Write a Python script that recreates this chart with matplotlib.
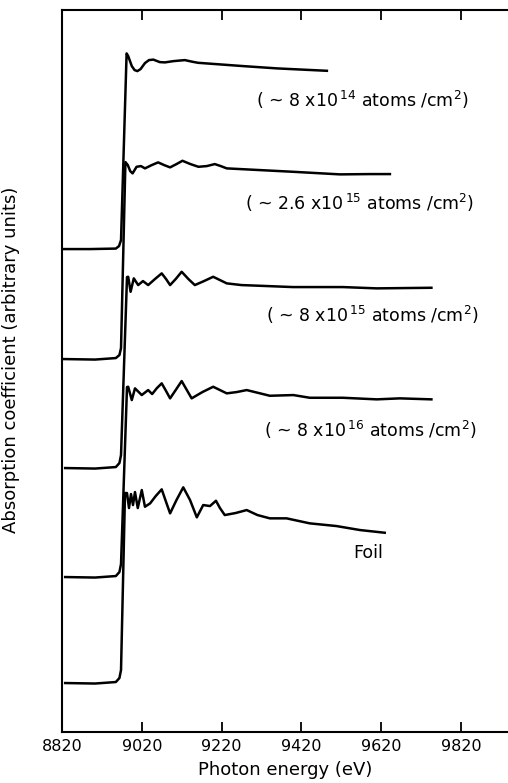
import matplotlib
matplotlib.use("Agg")
import matplotlib.pyplot as plt

# traced curves: photon energy (eV) and absorption (arbitrary units, offset per curve)
e_14 = [8822, 8890, 8955, 8963, 8968, 8982, 8986, 8995, 9002, 9009, 9017, 9028, 9038, 9049, 9065, 9078,
        9100, 9128, 9145, 9161, 9274, 9359, 9484]
mu_14 = [483, 483, 483.5, 486, 492, 678.7, 676, 666, 662, 661, 663, 669, 672, 672.5, 670, 669.7,
         671, 672, 670.5, 669.3, 666, 663.7, 661.3]

e_26 = [8825, 8903, 8955, 8964, 8968, 8979, 8985, 8991, 8997, 9002, 9007, 9018, 9028, 9045, 9061, 9076,
        9091, 9107, 9122, 9142, 9162, 9183, 9203, 9218, 9233, 9316, 9399, 9517, 9592, 9642]
mu_26 = [373, 372.5, 374, 377, 384, 570, 567, 561, 558.7, 562, 565.3, 566, 563.7, 567, 569.7, 567,
         564.7, 568, 571.3, 568, 565.3, 566, 568, 566, 563.7, 562, 560.3, 557.7, 558, 558]

e_15 = [8828, 8903, 8955, 8964, 8968, 8983, 8986, 8992, 9000, 9011, 9023, 9036, 9053, 9070, 9081, 9091,
        9105, 9120, 9137, 9153, 9176, 9199, 9216, 9233, 9270, 9316, 9399, 9524, 9609, 9746]
mu_15 = [264, 263.5, 265, 269, 277, 455, 455.3, 440.3, 453.7, 447, 451, 447, 453, 458.7, 453, 447,
         453, 460.3, 453, 447, 451, 455.3, 452, 448.7, 447, 446.3, 445, 445, 443.7, 444.3]

e_16 = [8828, 8903, 8955, 8964, 8968, 8983, 8986, 8995, 9003, 9020, 9036, 9046, 9058, 9070, 9081, 9091,
        9105, 9120, 9133, 9145, 9172, 9199, 9216, 9233, 9258, 9283, 9341, 9400, 9441, 9524, 9609, 9667, 9746]
mu_16 = [155, 154.5, 156, 160, 168, 345, 345.3, 332, 343.7, 337, 342, 338, 344, 348.7, 341, 333.7,
         342, 351, 342, 333.7, 340, 345.3, 342, 338.7, 340, 342, 336.3, 337, 334.3, 334.3, 332.7, 333.7, 332.7]

e_foil = [8828, 8903, 8955, 8964, 8968, 8978, 8983, 8988, 8993, 8998, 9003, 9010, 9020, 9028, 9041, 9055,
          9070, 9081, 9091, 9107, 9124, 9133, 9141, 9158, 9174, 9191, 9206, 9216, 9228, 9255, 9283, 9310,
          9341, 9383, 9441, 9508, 9567, 9629]
mu_foil = [49, 48.5, 50, 54, 62, 239, 239, 224, 238, 227, 240, 224, 242, 225.3, 228.7, 236,
           242.7, 230, 218.7, 232, 244.7, 238, 232, 214.7, 227, 226, 231.3, 224, 217, 219, 222, 217,
           213.7, 213.7, 208.7, 206, 202, 199.3]

labels = [r"( ~ 8 x10$^{\,14}$ atoms /cm$^2$)",
          r"( ~ 2.6 x10$^{\,15}$ atoms /cm$^2$)",
          r"( ~ 8 x10$^{\,15}$ atoms /cm$^2$)",
          r"( ~ 8 x10$^{\,16}$ atoms /cm$^2$)",
          "Foil"]
label_pos = [(9574, 632), (9567, 529), (9599, 417), (9592, 302), (9587, 179)]

xticks = [8820, 9020, 9220, 9420, 9620, 9820]

fig = plt.figure(figsize=(5.08, 7.83), dpi=100)
ax = fig.add_axes([0.122, 0.0651, 0.878, 0.922])

for e, mu in [(e_14, mu_14), (e_26, mu_26), (e_15, mu_15), (e_16, mu_16), (e_foil, mu_foil)]:
    ax.plot(e, mu, color="black", lw=1.8, solid_joinstyle="round")

for txt, (x, y) in zip(labels, label_pos):
    ax.text(x, y, txt, ha="center", va="center", fontsize=12.5)

ax.set_xlim(8820, 9938)
ax.set_ylim(0, 722)
ax.set_xticks(xticks)
ax.set_yticks([])
ax.tick_params(axis="x", direction="in", length=7, width=1.3, top=True, labelsize=11.5, pad=5)
ax.spines["right"].set_visible(False)
for s in ["left", "bottom", "top"]:
    ax.spines[s].set_linewidth(1.5)

ax.set_xlabel("Photon energy (eV)", fontsize=13, labelpad=5)
ax.set_ylabel("Absorption coefficient (arbitrary units)", fontsize=13)
ax.yaxis.set_label_coords(-0.094, 0.515)

plt.savefig("out.png", dpi=100)
